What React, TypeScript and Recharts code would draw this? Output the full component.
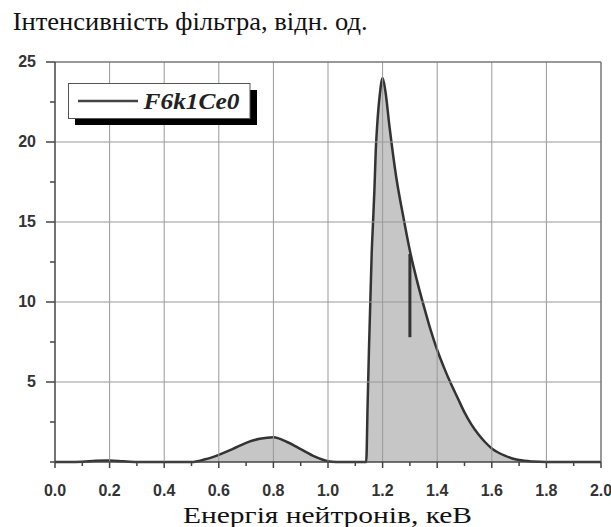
import { ComposedChart, Area, XAxis, YAxis, ReferenceLine } from "recharts";

// neutron energy, keV
const energy = [
  0, 0.05, 0.1, 0.15, 0.2, 0.25, 0.3, 0.4, 0.5, 0.55, 0.6, 0.65, 0.7, 0.75, 0.8, 0.85, 0.9, 0.95, 1.0,
  1.03, 1.1, 1.14, 1.145, 1.15, 1.155, 1.16, 1.165, 1.17, 1.175, 1.18, 1.19, 1.2, 1.21, 1.225, 1.25,
  1.275, 1.3, 1.325, 1.35, 1.375, 1.4, 1.425, 1.45, 1.475, 1.5, 1.525, 1.55, 1.575, 1.6, 1.625, 1.65,
  1.675, 1.7, 1.75, 1.8, 1.9, 2.0,
];
// filter intensity, rel. units
const intensity = [
  0, 0, 0.02, 0.08, 0.1, 0.04, 0, 0, 0, 0.17, 0.45, 0.8, 1.2, 1.45, 1.55, 1.25, 0.8, 0.35, 0.05,
  0, 0, 0, 3.5, 7, 10, 13, 15, 17, 19.5, 21, 23, 24, 23.2, 21, 17.8,
  15.4, 13.2, 11.4, 9.8, 8.3, 7.0, 5.9, 4.9, 4.0, 3.1, 2.35, 1.75, 1.25, 0.85, 0.58, 0.38,
  0.22, 0.12, 0.03, 0, 0, 0,
];

const xTicks = [0, 0.1, 0.2, 0.3, 0.4, 0.5, 0.6, 0.7, 0.8, 0.9, 1.0, 1.1, 1.2, 1.3, 1.4, 1.5, 1.6, 1.7, 1.8, 1.9, 2.0];
const xLabels = ["0.0", "", "0.2", "", "0.4", "", "0.6", "", "0.8", "", "1.0", "", "1.2", "", "1.4", "", "1.6", "", "1.8", "", "2.0"];
const yTicks = [0, 2.5, 5, 7.5, 10, 12.5, 15, 17.5, 20, 22.5, 25];
const yLabels = ["", "", "5", "", "10", "", "15", "", "20", "", "25"];
const xGrid = [0.2, 0.4, 0.6, 0.8, 1.0, 1.2, 1.4, 1.6, 1.8];
const yGrid = [5, 10, 15, 20];
// short vertical stroke drawn on the falling edge
const mark = [
  { x: 1.3, y: 13 },
  { x: 1.3, y: 7.8 },
];
const seriesName = "F6k1Ce0";

const data = energy.map((e, i) => ({ e, v: intensity[i] }));

const XTick = (props: any) => {
  const { x, y, index } = props;
  const label = xLabels[index];
  return (
    <g>
      <line x1={x} x2={x} y1={y} y2={y + (label ? 6 : 4)} stroke="#444" strokeWidth={1.5} />
      {label && (
        <text x={x} y={y + 34} textAnchor="middle" fontFamily="Liberation Sans" fontWeight="bold" fontSize={16} fill="#333">
          {label}
        </text>
      )}
    </g>
  );
};

const YTick = (props: any) => {
  const { x, y, index } = props;
  const label = yLabels[index];
  return (
    <g>
      <line x1={x} x2={x - (label ? 9 : 5)} y1={y} y2={y} stroke="#444" strokeWidth={1.5} />
      {label && (
        <text x={x - 19} y={y + 5} textAnchor="end" fontFamily="Liberation Sans" fontWeight="bold" fontSize={16} fill="#333">
          {label}
        </text>
      )}
    </g>
  );
};

export default function App() {
  return (
    <div style={{ position: "relative", width: 611, height: 527, background: "#fff" }}>
      <style>{"body{margin:0}"}</style>
      <ComposedChart width={611} height={527} data={data} margin={{ top: 62, right: 10, bottom: 35, left: 15 }}>
        <XAxis
          dataKey="e"
          type="number"
          domain={[0, 2]}
          ticks={xTicks}
          interval={0}
          height={30}
          tickSize={0}
          tickMargin={0}
          tickLine={false}
          tick={<XTick />}
          axisLine={{ stroke: "#444", strokeWidth: 1.5 }}
        />
        <YAxis
          type="number"
          domain={[0, 25]}
          ticks={yTicks}
          interval={0}
          width={40}
          tickSize={0}
          tickMargin={0}
          tickLine={false}
          tick={<YTick />}
          axisLine={{ stroke: "#444", strokeWidth: 1.5 }}
        />
        <Area
          type="monotone"
          dataKey="v"
          name={seriesName}
          stroke="#333"
          strokeWidth={2.5}
          fill="#c6c6c6"
          fillOpacity={1}
          isAnimationActive={false}
          dot={false}
        />
        {xGrid.map((g) => (
          <ReferenceLine key={`vx${g}`} x={g} stroke="#999" strokeWidth={1} />
        ))}
        {yGrid.map((g) => (
          <ReferenceLine key={`hy${g}`} y={g} stroke="#999" strokeWidth={1} />
        ))}
        <ReferenceLine y={25} stroke="#777" strokeWidth={1.5} />
        <ReferenceLine x={2} stroke="#777" strokeWidth={1.5} />
        <ReferenceLine segment={mark} stroke="#333" strokeWidth={3} ifOverflow="visible" />
      </ComposedChart>
      <svg width={611} height={527} style={{ position: "absolute", left: 0, top: 0, pointerEvents: "none" }}>
        <text x={12.7} y={29.5} fontFamily="Liberation Serif" fontSize={25} fill="#111" textLength={355} lengthAdjust="spacingAndGlyphs">
          Інтенсивність фільтра, відн. од.
        </text>
        <text x={183} y={522.5} fontFamily="Liberation Serif" fontSize={24} fill="#111" textLength={289} lengthAdjust="spacingAndGlyphs">
          Енергія нейтронів, кеВ
        </text>
        {/* legend */}
        <rect x={75} y={90} width={182} height={35} fill="#000" />
        <rect x={68.5} y={83.5} width={181.5} height={35} fill="#fff" stroke="#555" strokeWidth={1} />
        <line x1={78} x2={138} y1={101} y2={101} stroke="#444" strokeWidth={2.5} />
        <text x={143.5} y={109} fontFamily="Liberation Serif" fontWeight="bold" fontStyle="italic" fontSize={23} fill="#222" textLength={96} lengthAdjust="spacingAndGlyphs">
          {seriesName}
        </text>
      </svg>
    </div>
  );
}
